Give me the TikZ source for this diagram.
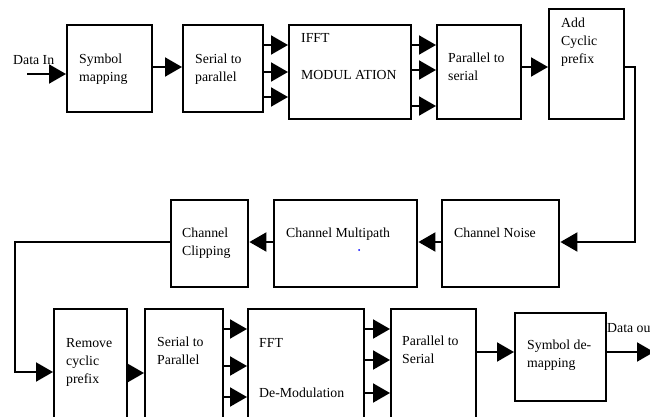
\documentclass[tikz,border=0pt]{standalone}
\usepackage{fontspec}
\setmainfont{Liberation Serif}
\usetikzlibrary{arrows.meta}
\begin{document}
\begin{tikzpicture}[x=1pt,y=-1pt,
  box/.style={draw=black,line width=2.4pt,rectangle,inner sep=0pt,anchor=north west},
  lbl/.style={font=\fontsize{13.8}{18}\selectfont,inner sep=0pt,anchor=base west,align=left},
  arr/.style={line width=2pt,-{Triangle[length=17pt,width=19pt]}},
  ln/.style={line width=2pt}]
\useasboundingbox (0,0) rectangle (650,417);
\clip (0,0) rectangle (650,417);
% top row
\node[box,minimum width=85pt,minimum height=87pt] (sm) at (66,24) {};
\node[box,minimum width=80pt,minimum height=87pt] (sp) at (182,24) {};
\node[box,minimum width=122pt,minimum height=94pt] (ifft) at (288,24) {};
\node[box,minimum width=84pt,minimum height=94pt] (ps) at (436,24) {};
\node[box,minimum width=75pt,minimum height=110pt] (acp) at (548,8) {};
% middle row
\node[box,minimum width=117pt,minimum height=87pt] (cn) at (441,199) {};
\node[box,minimum width=143pt,minimum height=87pt] (cm) at (273,199) {};
\node[box,minimum width=77pt,minimum height=87pt] (cc) at (170,199) {};
% bottom row
\node[box,minimum width=73pt,minimum height=120pt] (rcp) at (53,308) {};
\node[box,minimum width=78pt,minimum height=120pt] (sp2) at (144,308) {};
\node[box,minimum width=116pt,minimum height=120pt] (fft) at (247,308) {};
\node[box,minimum width=85pt,minimum height=120pt] (ps2) at (390,308) {};
\node[box,minimum width=91pt,minimum height=88pt] (sdm) at (514,312) {};
% labels (anchor = baseline of last line)
\node[lbl] (din) at (13,65) {Data In};
\node[lbl] (smt) at (79,82) {Symbol\\mapping};
\node[lbl] (spt) at (195,82) {Serial to\\parallel};
\node[lbl] (ifftt) at (301,43) {IFFT};
\node[lbl] (modt) at (301,80) {MODUL ATION};
\node[lbl] (pst) at (448,81) {Parallel to\\serial};
\node[lbl] (acpt) at (561,64) {Add\\Cyclic\\prefix};
\node[lbl] (cnt) at (454,237) {Channel Noise};
\node[lbl] (cmt) at (286,237) {Channel Multipath};
\node[lbl] (cct) at (182,255) {Channel\\Clipping};
\node[lbl] (rcpt) at (66,383) {Remove\\cyclic\\prefix};
\node[lbl] (sp2t) at (157,364) {Serial to\\Parallel};
\node[lbl] (fftt) at (259,347) {FFT};
\node[lbl] (demt) at (259,397) {De-Modulation};
\node[lbl] (ps2t) at (402,363) {Parallel to\\Serial};
\node[lbl] (sdmt) at (527,367) {Symbol de-\\mapping};
\node[lbl] (dout) at (607,332) {Data ou};
\fill[blue] (359,250) circle (1pt);
% connectors top
\coordinate (dinS) at (27,74);
\draw[arr] (dinS) -- (sm.west |- 0,74);
\draw[arr] (sm.east |- 0,67) -- (sp.west |- 0,67);
\foreach \yy in {45,72,97} \draw[arr] (sp.east |- 0,\yy) -- (ifft.west |- 0,\yy);
\foreach \yy in {45,70,106} \draw[arr] (ifft.east |- 0,\yy) -- (ps.west |- 0,\yy);
\draw[arr] (ps.east |- 0,67) -- (acp.west |- 0,67);
\draw[arr] (acp.east |- 0,67) -- (635,67) -- (635,242) -- (cn.east |- 0,242);
% middle
\draw[arr] (cn.west |- 0,242) -- (cm.east |- 0,242);
\draw[arr] (cm.west |- 0,242) -- (cc.east |- 0,242);
\draw[arr] (cc.west |- 0,242) -- (15,242) -- (15,372) -- (rcp.west |- 0,372);
% bottom
\draw[arr] (rcp.east |- 0,373) -- (sp2.west |- 0,373);
\foreach \yy in {329,366,397} \draw[arr] (sp2.east |- 0,\yy) -- (fft.west |- 0,\yy);
\foreach \yy in {329,360,393} \draw[arr] (fft.east |- 0,\yy) -- (ps2.west |- 0,\yy);
\draw[arr] (ps2.east |- 0,352) -- (sdm.west |- 0,352);
\coordinate (doutE) at (654,352);
\draw[arr] (sdm.east |- 0,352) -- (doutE);
\end{tikzpicture}
\end{document}
